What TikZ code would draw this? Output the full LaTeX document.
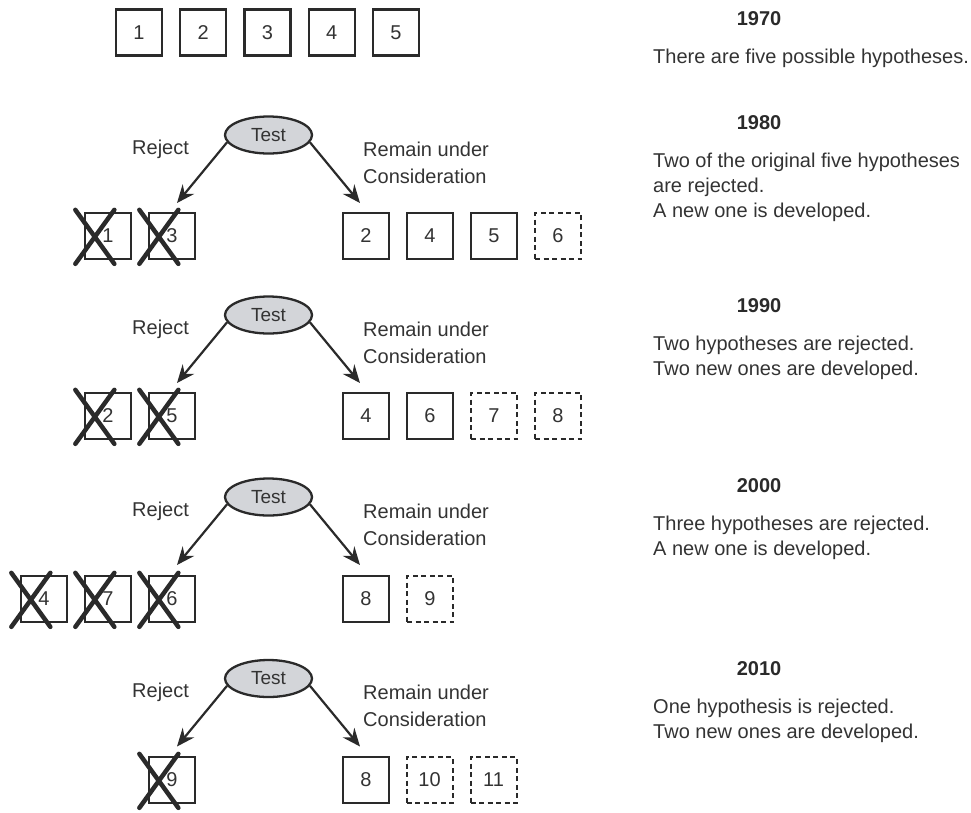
\documentclass[tikz,border=0pt]{standalone}
\usepackage{fontspec}
\setmainfont{Liberation Sans}
\usetikzlibrary{arrows.meta,shapes.geometric}
\definecolor{ink}{HTML}{2A2A2A}
\definecolor{txt}{HTML}{333333}
\definecolor{testfill}{HTML}{D3D5D9}
\newcommand\crossout[1]{%
  \draw[xout] ([shift={(-8.5,-2)}]#1.north west) -- ([shift={(30.5,52)}]#1.north west);
  \draw[xout] ([shift={(30.5,-2)}]#1.north west) -- ([shift={(-8.5,52)}]#1.north west);}
\begin{document}
\begin{tikzpicture}[x=1pt,y=-1pt,
  hyp/.style={draw=ink, line width=2.3pt, minimum width=46pt, minimum height=46pt, inner sep=0pt, font=\fontsize{20}{24}\selectfont, text=txt},
  newhyp/.style={hyp, line width=2pt, dash pattern=on 5pt off 3.5pt},
  test/.style={ellipse, draw=ink, line width=2.3pt, fill=testfill, minimum width=87pt, minimum height=37pt, inner sep=0pt, font=\fontsize{19}{22}\selectfont, text=txt},
  lbl/.style={font=\fontsize{20}{27}\selectfont, text=txt, inner sep=0pt, align=left, anchor=base west},
  year/.style={font=\fontsize{20}{24}\selectfont\bfseries, text=ink, inner sep=0pt, anchor=base},
  desc/.style={font=\fontsize{20}{25}\selectfont, text=txt, inner sep=0pt, align=left, anchor=base west},
  arr/.style={draw=ink, line width=2.2pt, -{Stealth[length=18pt,width=15pt,inset=6pt]}},
  xout/.style={draw=ink, line width=4.5pt, line cap=round}
]
\useasboundingbox (0,0) rectangle (971,812);

% ---- 1970
\node[hyp] (a1) at (139,32.5) {1};
\node[hyp] (a2) at (203.25,32.5) {2};
\node[hyp] (a3) at (267.5,32.5) {3};
\node[hyp] (a4) at (331.75,32.5) {4};
\node[hyp] (a5) at (396,32.5) {5};
\node[year] (y1) at (759,25) {1970};
\node[desc] (d1) at (653,63.5) {There are five possible hypotheses.};

% ---- 1980
\node[test] (t1) at (268.5,135) {Test};
\node[lbl] (rj1) at (132,154) {Reject};
\node[lbl] (rm1) at (363,183) {Remain under\\Consideration};
\coordinate (l1) at (177,203);
\coordinate (r1) at (360,203);
\draw[arr] (t1.190) -- (l1);
\draw[arr] (t1.350) -- (r1);
\node[hyp] (b1) at (108,236) {1};
\node[hyp] (b3) at (172,236) {3};
\node[hyp] (b2) at (366,236) {2};
\node[hyp] (b4) at (430,236) {4};
\node[hyp] (b5) at (494,236) {5};
\node[newhyp] (b6) at (558,236) {6};
\crossout{b1}
\crossout{b3}
\node[year] (y2) at (759,129) {1980};
\node[desc] (d2) at (653,217.5) {Two of the original five hypotheses\\are rejected.\\A new one is developed.};

% ---- 1990
\node[test] (t2) at (268.5,315) {Test};
\node[lbl] (rj2) at (132,334) {Reject};
\node[lbl] (rm2) at (363,363) {Remain under\\Consideration};
\coordinate (l2) at (177,383);
\coordinate (r2) at (360,383);
\draw[arr] (t2.190) -- (l2);
\draw[arr] (t2.350) -- (r2);
\node[hyp] (c2) at (108,416) {2};
\node[hyp] (c5) at (172,416) {5};
\node[hyp] (c4) at (366,416) {4};
\node[hyp] (c6) at (430,416) {6};
\node[newhyp] (c7) at (494,416) {7};
\node[newhyp] (c8) at (558,416) {8};
\crossout{c2}
\crossout{c5}
\node[year] (y3) at (759,312) {1990};
\node[desc] (d3) at (653,375.5) {Two hypotheses are rejected.\\Two new ones are developed.};

% ---- 2000
\node[test] (t3) at (268.5,497) {Test};
\node[lbl] (rj3) at (132,516) {Reject};
\node[lbl] (rm3) at (363,545) {Remain under\\Consideration};
\coordinate (l3) at (177,565);
\coordinate (r3) at (360,565);
\draw[arr] (t3.190) -- (l3);
\draw[arr] (t3.350) -- (r3);
\node[hyp] (e4) at (44,599) {4};
\node[hyp] (e7) at (108,599) {7};
\node[hyp] (e6) at (172,599) {6};
\node[hyp] (e8) at (366,599) {8};
\node[newhyp] (e9) at (430,599) {9};
\crossout{e4}
\crossout{e7}
\crossout{e6}
\node[year] (y4) at (759,492) {2000};
\node[desc] (d4) at (653,555.5) {Three hypotheses are rejected.\\A new one is developed.};

% ---- 2010
\node[test] (t4) at (268.5,678.5) {Test};
\node[lbl] (rj4) at (132,697.5) {Reject};
\node[lbl] (rm4) at (363,726.5) {Remain under\\Consideration};
\coordinate (l4) at (177,746.5);
\coordinate (r4) at (360,746.5);
\draw[arr] (t4.190) -- (l4);
\draw[arr] (t4.350) -- (r4);
\node[hyp] (f9) at (172,780) {9};
\node[hyp] (f8) at (366,780) {8};
\node[newhyp] (f10) at (429.5,780) {10};
\node[newhyp] (f11) at (493.5,780) {11};
\crossout{f9}
\node[year] (y5) at (759,675) {2010};
\node[desc] (d5) at (653,738.5) {One hypothesis is rejected.\\Two new ones are developed.};
\end{tikzpicture}
\end{document}
